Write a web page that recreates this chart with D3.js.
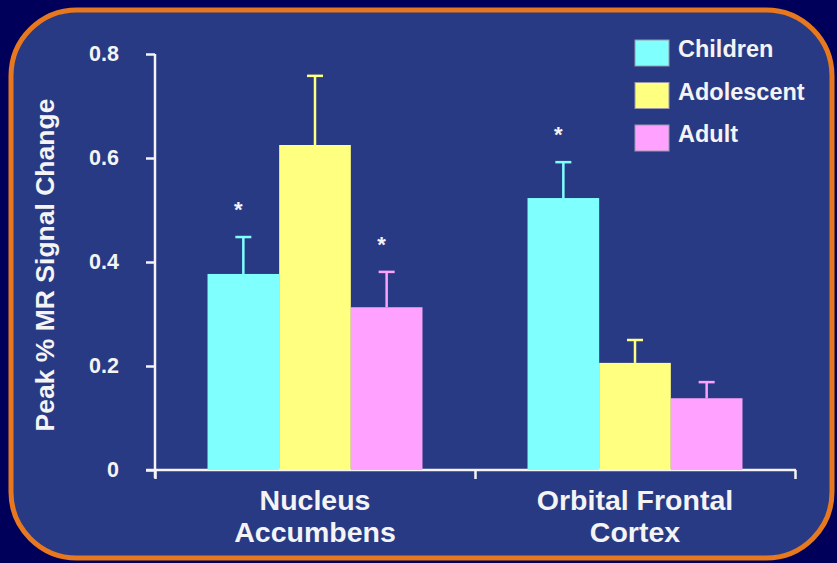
<!DOCTYPE html>
<html>
<head>
<script src="https://cdn.jsdelivr.net/npm/d3@7"></script>
<style>
  body { margin: 0; background: #00005a; }
  svg text { font-family: "Liberation Sans", Arial, sans-serif; font-weight: bold; fill: #f4f4f4; }
</style>
</head>
<body>
<div id="chart"></div>
<script>
var regions = [["Nucleus", "Accumbens"], ["Orbital Frontal", "Cortex"]];
var regionKeys = ["NAcc", "OFC"];
var groups = ["Children", "Adolescent", "Adult"];
var means = {
  NAcc: [0.377, 0.625, 0.313],
  OFC:  [0.523, 0.206, 0.138]
};
var errors = {
  NAcc: [0.071, 0.133, 0.068],
  OFC:  [0.069, 0.044, 0.031]
};
var significant = {
  NAcc: [true, false, true],
  OFC:  [true, false, false]
};
var yTicks = [0, 0.2, 0.4, 0.6, 0.8];
var colors = ["#80ffff", "#ffff80", "#ffa2ff"];

var width = 837, height = 563;
var svg = d3.select("#chart").append("svg")
    .attr("width", width)
    .attr("height", height);

svg.append("rect").attr("width", width).attr("height", height).attr("fill", "#00005a");
svg.append("rect")
    .attr("x", 11).attr("y", 10)
    .attr("width", 821).attr("height", 548)
    .attr("rx", 66).attr("ry", 66)
    .attr("fill", "#293a84")
    .attr("stroke", "#e8781e")
    .attr("stroke-width", 5);

var y = d3.scaleLinear().domain([0, 0.8]).range([470, 54]);
var x0 = d3.scaleBand().domain(regionKeys).range([155, 795]).padding(0);
var x1 = d3.scaleBand().domain(groups).range([0, x0.bandwidth()])
    .paddingInner(0).paddingOuter(0.733);
var color = d3.scaleOrdinal().domain(groups).range(colors);

// y axis
var yAxis = svg.append("g")
    .attr("transform", "translate(155,0)")
    .call(d3.axisLeft(y).tickValues(yTicks).tickSize(9).tickPadding(27)
        .tickFormat(function(d) { return d === 0 ? "0" : d3.format(".1f")(d); }));
yAxis.select(".domain").remove();
yAxis.append("line").attr("x1", 0).attr("x2", 0).attr("y1", 54).attr("y2", 478);
yAxis.selectAll("line").attr("stroke", "#f4f4f4").attr("stroke-width", 2.5);
yAxis.selectAll("text").style("font-size", "21.5px").attr("fill", "#f4f4f4");

// x axis (boundaries between regions)
var xb = d3.scaleLinear().domain([0, regionKeys.length]).range([155, 795]);
var xAxis = svg.append("g")
    .attr("transform", "translate(0,470)")
    .call(d3.axisBottom(xb).tickValues(d3.range(regionKeys.length + 1))
        .tickSize(9).tickSizeOuter(0).tickFormat(""));
xAxis.select(".domain").remove();
xAxis.append("line").attr("x1", 146).attr("x2", 796).attr("y1", 0).attr("y2", 0);
xAxis.selectAll("line").attr("stroke", "#f4f4f4").attr("stroke-width", 2.5);

// region labels
regionKeys.forEach(function(k, i) {
  var t = svg.append("text")
      .attr("x", x0(k) + x0.bandwidth() / 2)
      .attr("y", 510)
      .attr("text-anchor", "middle")
      .style("font-size", "28.5px");
  regions[i].forEach(function(line, j) {
    t.append("tspan").attr("x", x0(k) + x0.bandwidth() / 2)
        .attr("dy", j === 0 ? 0 : 32).text(line);
  });
});

// bars
var rows = [];
regionKeys.forEach(function(k) {
  groups.forEach(function(g, i) {
    rows.push({ region: k, group: g, v: means[k][i], e: errors[k][i], sig: significant[k][i] });
  });
});

var bar = svg.append("g").selectAll("g").data(rows).enter().append("g")
    .attr("transform", function(d) { return "translate(" + (x0(d.region) + x1(d.group)) + ",0)"; });

bar.append("line")
    .attr("x1", x1.bandwidth() / 2).attr("x2", x1.bandwidth() / 2)
    .attr("y1", function(d) { return y(d.v); })
    .attr("y2", function(d) { return y(d.v + d.e); })
    .attr("stroke", function(d) { return color(d.group); })
    .attr("stroke-width", 2.5);
bar.append("line")
    .attr("x1", x1.bandwidth() / 2 - 8).attr("x2", x1.bandwidth() / 2 + 8)
    .attr("y1", function(d) { return y(d.v + d.e); })
    .attr("y2", function(d) { return y(d.v + d.e); })
    .attr("stroke", function(d) { return color(d.group); })
    .attr("stroke-width", 2.5);

bar.append("rect")
    .attr("x", 0)
    .attr("width", x1.bandwidth())
    .attr("y", function(d) { return y(d.v); })
    .attr("height", function(d) { return y(0) - y(d.v); })
    .attr("fill", function(d) { return color(d.group); });

bar.filter(function(d) { return d.sig; }).append("text")
    .attr("x", x1.bandwidth() / 2 - 5)
    .attr("y", function(d) { return y(d.v + d.e) - 20; })
    .attr("text-anchor", "middle")
    .style("font-size", "22px")
    .text("*");

// y label
svg.append("text")
    .attr("transform", "translate(54,265) rotate(-90)")
    .attr("text-anchor", "middle")
    .style("font-size", "26.5px")
    .text("Peak % MR Signal Change");

// legend
var legend = svg.append("g").selectAll("g").data(groups).enter().append("g")
    .attr("transform", function(d, i) { return "translate(635," + (57 + i * 42.5) + ")"; });
legend.append("rect")
    .attr("x", 0).attr("y", -17)
    .attr("width", 34).attr("height", 26)
    .attr("fill", function(d) { return color(d); })
    .attr("stroke", "#9a9aa8").attr("stroke-width", 1);
legend.append("text")
    .attr("x", 43).attr("y", 0)
    .style("font-size", "23.5px")
    .text(function(d) { return d; });
</script>
</body>
</html>
